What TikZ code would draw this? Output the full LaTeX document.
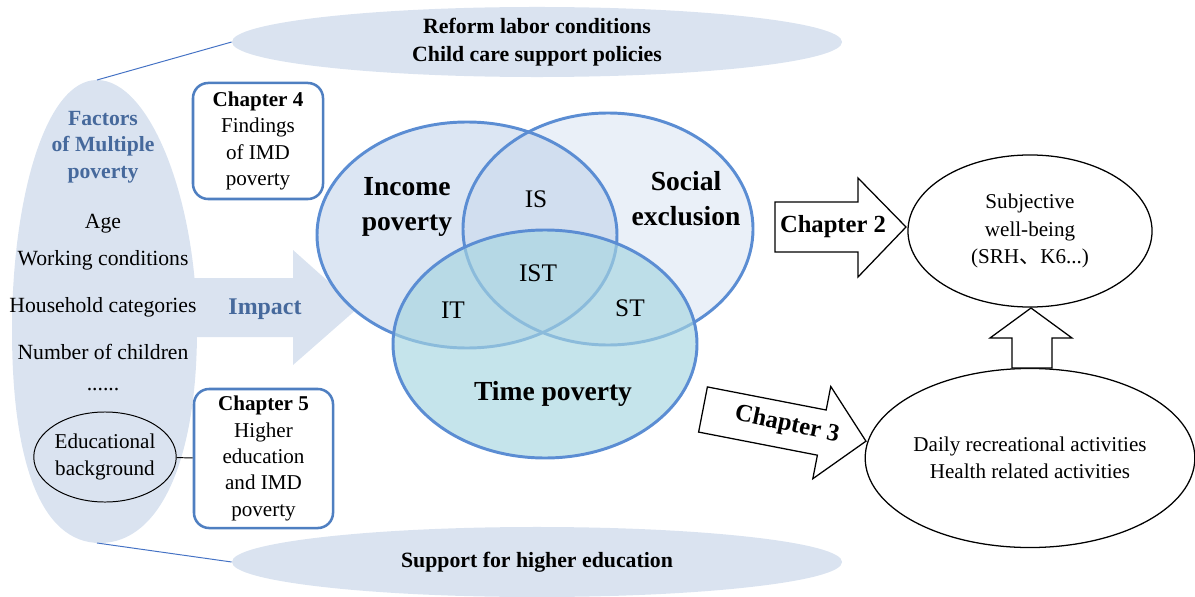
\documentclass[tikz,border=0pt]{standalone}
\usepackage{fontspec}
\setmainfont{Liberation Serif}
\newfontfamily\cjk{Noto Sans CJK SC}
\usetikzlibrary{shapes.geometric}

\definecolor{paleblue}{HTML}{DAE3F0}
\definecolor{vennblue}{HTML}{5B8DD3}
\definecolor{boxblue}{HTML}{4F7FC1}
\definecolor{factorblue}{HTML}{46699C}
\definecolor{incomefill}{HTML}{DCE6F3}
\definecolor{socialfill}{HTML}{B8CCE8}
\definecolor{timefill}{HTML}{A6D5E0}
\definecolor{guideblue}{HTML}{4472C4}

\newcommand{\fsize}[2]{\fontsize{#1}{#2}\selectfont}

\tikzset{
  policy/.style={ellipse, fill=paleblue, minimum width=15.25cm, minimum height=1.75cm,
    inner sep=0pt, align=center, font=\fsize{15.5}{20}\bfseries},
  chapbox/.style={draw=boxblue, line width=1.8pt, rounded corners=0.38cm, fill=white,
    align=center, inner sep=0pt, font=\fsize{15}{18.8}},
  outcome/.style={ellipse, draw, line width=0.9pt, fill=white, inner sep=0pt,
    align=center, font=\fsize{15}{19.5}},
  blockarrow/.style={draw, fill=white, line width=0.9pt, line join=miter},
  venn/.style={draw=vennblue, line width=2.1pt},
  factor/.style={font=\fsize{15.4}{19}},
  vennlabel/.style={font=\fsize{19.6}{25}\bfseries, align=center},
  region/.style={font=\fsize{18}{20}},
  guide/.style={draw=guideblue, line width=0.7pt},
}

\begin{document}
\begin{tikzpicture}[x=0.025cm, y=-0.025cm]
  \useasboundingbox (0,0) rectangle (1195,597);

  % factor bell and the impact arrow
  \fill[paleblue] (190,278) -- (293,278) -- (293,250) -- (358,308) -- (293,365)
    -- (293,337) -- (190,337) -- cycle;
  \fill[paleblue] (97,80) .. controls (150,80) and (197,200) .. (197,330)
    .. controls (197,460) and (160,543) .. (100,543)
    .. controls (40,543) and (12,460) .. (12,330)
    .. controls (12,200) and (45,80) .. (97,80);
  \coordinate (belltop) at (97,80);
  \coordinate (bellbot) at (97,543);

  % policies
  \node[policy] (reform)  at (537,42)  {Reform labor conditions\\Child care support policies};
  \node[policy] (support) at (537,562) {Support for higher education};
  \draw[guide] (belltop) -- (reform.west);
  \draw[guide] (bellbot) -- (support.west);

  % venn of the three poverties
  \fill[incomefill] (467,235) ellipse [x radius=150, y radius=113];
  \fill[socialfill, fill opacity=0.3] (608,229) ellipse [x radius=145, y radius=116];
  \draw[venn] (467,235) ellipse [x radius=150, y radius=113];
  \draw[venn] (608,229) ellipse [x radius=145, y radius=116];
  \fill[timefill, fill opacity=0.65] (545,344) ellipse [x radius=152, y radius=114];
  \draw[venn] (545,344) ellipse [x radius=152, y radius=114];

  \node[vennlabel] (income) at (407,207) {Income\\poverty};
  \node[vennlabel] (social) at (686,199) {Social\\exclusion};
  \node[vennlabel] (time)   at (553,394) {Time poverty};
  \node[region] (is)  at (536,199) {IS};
  \node[region] (ist) at (538,273) {IST};
  \node[region] (it)  at (453,310) {IT};
  \node[region] (st)  at (630,308) {ST};

  % factors
  \node[font=\fsize{15.4}{19}\bfseries, text=factorblue, align=center] (factors)
    at (103,147) {Factors\\of Multiple\\poverty};
  \node[factor] (age)       at (103,224) {Age};
  \node[factor] (work)      at (103,260) {Working conditions};
  \node[factor] (household) at (103,307) {Household categories};
  \node[factor] (children)  at (103,352) {Number of children};
  \node[factor] (dots)      at (103,390) {......};
  \node[outcome, minimum width=3.25cm, minimum height=2.25cm, line width=0.7pt,
    fill=none, font=\fsize{15}{19}] (edu) at (105,457) {Educational\\background};
  \node[font=\fsize{17}{20}\bfseries, text=factorblue] (impact) at (265,309) {Impact};

  % chapters 4 and 5
  \node[chapbox, minimum width=3.25cm, minimum height=2.9cm] (ch4) at (258,141)
    {\textbf{Chapter 4}\\Findings\\of IMD\\poverty};
  \node[chapbox, minimum width=3.475cm, minimum height=3.475cm] (ch5) at (263.5,458.5)
    {\textbf{Chapter 5}\\Higher\\education\\and IMD\\poverty};
  \draw[line width=0.7pt] (edu) -- (ch5);

  % outcomes
  \node[outcome, minimum width=6.1cm, minimum height=3.8cm] (swb) at (1030,231)
    {Subjective\\well-being\\(SRH{\cjk 、}K6...)};
  \node[outcome, minimum width=8.175cm, minimum height=4.475cm] (daily) at (1030,458)
    {Daily recreational activities\\Health related activities};

  % chapter 2 and 3 arrows
  \draw[blockarrow] (775,202) -- (858,202) -- (858,178) -- (906,227) -- (858,277)
    -- (858,252) -- (775,252) -- cycle;
  \node[font=\fsize{17.5}{20}\bfseries] (ch2) at (833,227) {Chapter 2};
  \begin{scope}[shift={(703,409.5)}, rotate=-11]
    \draw[blockarrow] (0,-23) -- (121,-23) -- (121,-47) -- (166,0) -- (121,47)
      -- (121,23) -- (0,23) -- cycle;
  \end{scope}
  \node[font=\fsize{17.5}{20}\bfseries, rotate=-12] (ch3) at (787,425) {Chapter 3};

  % activities feed well-being
  \draw[blockarrow] (1012,368) -- (1012,338) -- (990,338) -- (1031,308) -- (1072,338)
    -- (1052,338) -- (1052,368) -- cycle;
\end{tikzpicture}
\end{document}
